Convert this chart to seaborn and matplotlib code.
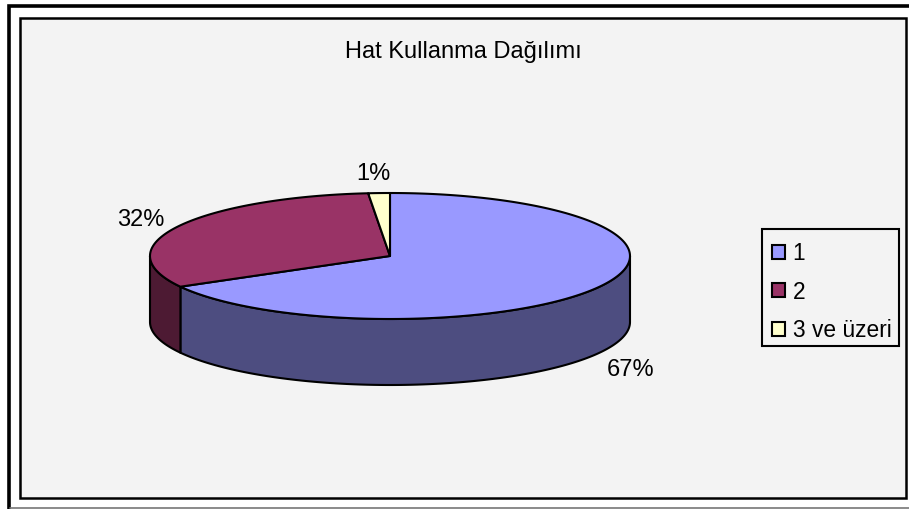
import numpy as np
import matplotlib
matplotlib.use('Agg')
import matplotlib.pyplot as plt
import seaborn as sns
from matplotlib.patches import Polygon, Patch, Rectangle

sns.set_style('white')
plt.rcParams['font.family'] = ['Liberation Sans', 'DejaVu Sans']

# datos
categorias = ['1', '2', '3 ve üzeri']
valores = [66.9, 31.65, 1.45]
colores = sns.color_palette(['#9999FF', '#993366', '#FFFFCC'])
colores_lado = sns.color_palette(['#4D4D80', '#4D1A33', '#808066'])
titulo = 'Hat Kullanma Dağılımı'

# posicion de las etiquetas en pixeles
pos_etiquetas = [(631, 370), (141, 220), (373, 174)]

cx, cy, rx, ry, alto = 390, 256, 240, 63, 66


def borde(a, b, dy=0):
    # a y b en grados, horario desde arriba
    t = np.radians(np.linspace(a, b, 200))
    return np.column_stack([cx + rx * np.sin(t), cy - ry * np.cos(t) + dy])


fig = plt.figure(figsize=(9.09, 5.09), dpi=100)
ax = fig.add_axes([0, 0, 1, 1])
ax.set_xlim(0, 909)
ax.set_ylim(509, 0)
ax.axis('off')

# marcos
ax.add_patch(Rectangle((8.5, 6), 920, 520, fc='white', ec='black', lw=2.6))
ax.add_patch(Rectangle((20, 18), 886, 480, fc='#F3F3F3', ec='black', lw=1.8))
ax.plot([10, 909], [507.5, 507.5], color='#777777', lw=1.2)

angulos = np.concatenate([[0], np.cumsum(valores) / np.sum(valores) * 360])

# lados visibles (solo la mitad de delante, 90 a 270 grados)
for i in range(len(valores)):
    a, b = max(angulos[i], 90), min(angulos[i + 1], 270)
    if a < b:
        arriba = borde(a, b)
        abajo = borde(a, b, alto)[::-1]
        ax.add_patch(Polygon(np.vstack([arriba, abajo]), fc=colores_lado[i], ec='black', lw=1.5, joinstyle='round'))

# tapa
for i in range(len(valores)):
    pts = np.vstack([[cx, cy], borde(angulos[i], angulos[i + 1])])
    ax.add_patch(Polygon(pts, fc=colores[i], ec='black', lw=1.5, joinstyle='round'))

for v, (x, y) in zip(valores, pos_etiquetas):
    ax.text(x, y, f'{v:.0f}%', fontsize=17, ha='center', va='center', color='black')

ax.text(463, 52, titulo, fontsize=17, ha='center', va='center', color='black')

# caja de la leyenda
ax.add_patch(Rectangle((762, 229), 137, 117, fc='#F3F3F3', ec='black', lw=1.5))
handles = [Patch(fc=c, ec='black', lw=1.5) for c in colores]
ax.legend(handles, categorias, loc='upper left', bbox_to_anchor=(762, 232), bbox_transform=ax.transData,
          borderaxespad=0, fontsize=16.4, frameon=False, labelcolor='black',
          handlelength=0.57, handleheight=0.57, handletextpad=0.35, labelspacing=0.7, borderpad=0.42)

fig.savefig('out.png', dpi=100)
